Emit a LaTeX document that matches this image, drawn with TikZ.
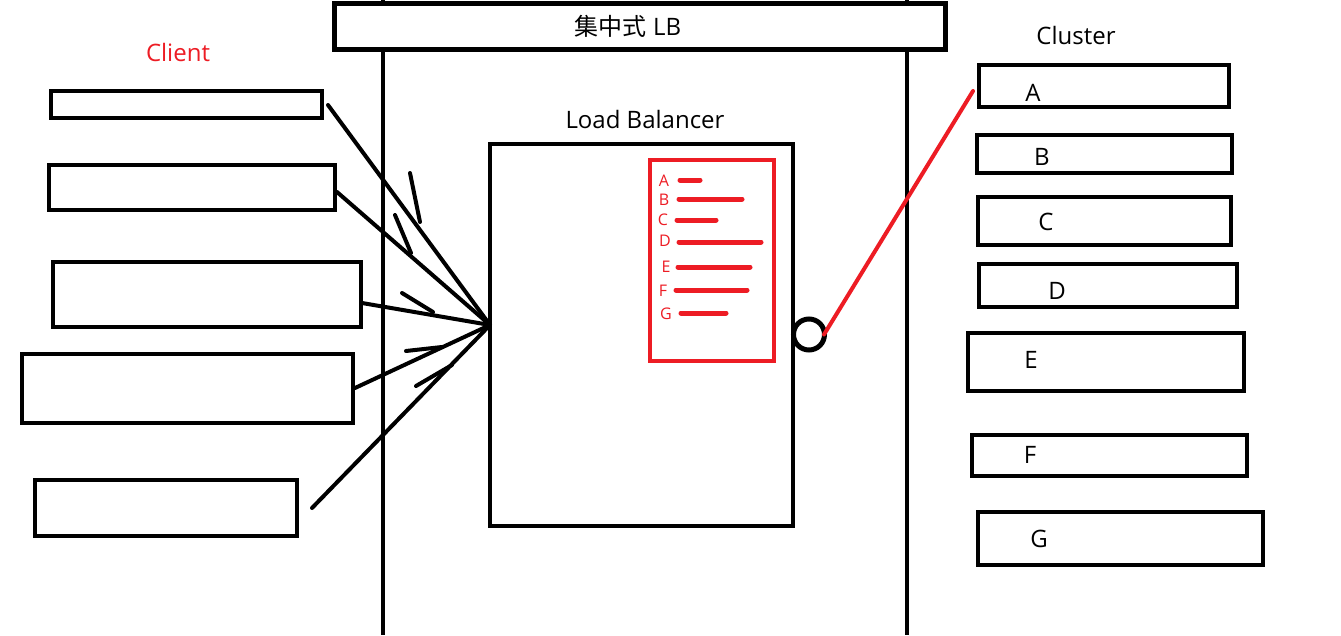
\documentclass[tikz,border=0pt]{standalone}
\usepackage{fontspec}
\setmainfont{Open Sans}
\newfontfamily\cjk{Noto Sans CJK SC}
\definecolor{pred}{HTML}{ED1C24}
\begin{document}
\begin{tikzpicture}[x=1pt,y=-1pt,
  box/.style={draw=black, line width=4pt, inner sep=0pt, fill=white},
  lbl/.style={inner sep=0pt, font=\fontsize{24}{28}\selectfont},
  small/.style={inner sep=0pt, text=pred, font=\fontsize{16}{18}\selectfont},
  conn/.style={line width=4pt, line cap=round},
  barb/.style={line width=4pt, line cap=round},
  bar/.style={draw=pred, line width=5pt, line cap=round}]
\useasboundingbox[fill=white] (0,0) rectangle (1341,635);

% vertical boundary lines
\coordinate (v1t) at (383,0);
\coordinate (v1b) at (383,635);
\coordinate (v2t) at (907,0);
\coordinate (v2b) at (907,635);
\draw[line width=4pt] (v1t) -- (v1b);
\draw[line width=4pt] (v2t) -- (v2b);

% top box
\node[box, line width=5pt, minimum width=611pt, minimum height=46.5pt] (top) at (639.5,26.25) {};
\node[lbl] (toplbl) at (628,26) {{\cjk 集中式} LB};

% titles
\node[lbl, text=pred] (clientlbl) at (178,52) {Client};
\node[lbl] (clusterlbl) at (1076,35) {Cluster};
\node[lbl] (lblbl) at (645,119) {Load Balancer};

% client boxes
\node[box, minimum width=271pt, minimum height=27pt] (c1) at (186.5,104.5) {};
\node[box, minimum width=286pt, minimum height=45pt] (c2) at (192,187.5) {};
\node[box, minimum width=308pt, minimum height=65pt] (c3) at (207,294.5) {};
\node[box, minimum width=331pt, minimum height=69pt] (c4) at (187.5,388.5) {};
\node[box, minimum width=262pt, minimum height=56pt] (c5) at (166,508) {};

% load balancer box
\node[box, minimum width=303pt, minimum height=382pt] (lb) at (641.5,335) {};
\coordinate (lbin) at (490,325);

% red list
\node[draw=pred, line width=4pt, inner sep=0pt, minimum width=124pt, minimum height=201pt] (list) at (712,260.5) {};
\node[small] (la) at (664,181) {A};
\node[small] (lbb) at (664,200) {B};
\node[small] (lc) at (663,220) {C};
\node[small] (ld) at (665,241) {D};
\node[small] (le) at (666,267) {E};
\node[small] (lf) at (663,291) {F};
\node[small] (lg) at (666,314) {G};
\draw[bar] (680,180) -- (700,180);
\draw[bar] (679,199) -- (742,199);
\draw[bar] (677,220) -- (716,220);
\draw[bar] (679,242) -- (761,242);
\draw[bar] (678,267) -- (750,267);
\draw[bar] (676,290) -- (747,290);
\draw[bar] (681,313) -- (726,313);

% connectors from clients
\coordinate (s1) at (328,105);
\coordinate (s2) at (337,192);
\coordinate (s3) at (362,303);
\coordinate (s4) at (355,388);
\coordinate (s5) at (312,508);
\draw[conn] (s1) -- (lbin);
\draw[conn] (s2) -- (lbin);
\draw[conn] (s3) -- (lbin);
\draw[conn] (s4) -- (lbin);
\draw[conn] (s5) -- (lbin);
% half arrow barbs
\draw[barb] (410,173) -- (420,222);
\draw[barb] (395,215) -- (411,253);
\draw[barb] (402,293) -- (433,312);
\draw[barb] (406,351) -- (442,347);
\draw[barb] (416,386) -- (452,365);

% port circle
\node[draw, line width=5pt, circle, inner sep=0pt, minimum size=31pt] (port) at (809,334.5) {};

% cluster boxes
\node[box, minimum width=250pt, minimum height=42pt] (ka) at (1104,86) {};
\node[box, minimum width=255pt, minimum height=38pt] (kb) at (1104.5,154) {};
\node[box, minimum width=253pt, minimum height=48pt] (kc) at (1104.5,221) {};
\node[box, minimum width=258pt, minimum height=43pt] (kd) at (1108,285.5) {};
\node[box, minimum width=276pt, minimum height=58pt] (ke) at (1106,362) {};
\node[box, minimum width=275pt, minimum height=41pt] (kf) at (1109.5,455.5) {};
\node[box, minimum width=285pt, minimum height=53pt] (kg) at (1120.5,538.5) {};
\node[lbl] (kal) at (1033,93) {A};
\node[lbl] (kbl) at (1042,157) {B};
\node[lbl] (kcl) at (1046,222) {C};
\node[lbl] (kdl) at (1057,291) {D};
\node[lbl] (kel) at (1031,360) {E};
\node[lbl] (kfl) at (1030,455) {F};
\node[lbl] (kgl) at (1039,539) {G};

% red connector to cluster A
\coordinate (aend) at (973,91);
\draw[draw=pred, line width=4pt, line cap=round] ([xshift=-3pt]port.east) -- (aend);
\end{tikzpicture}
\end{document}
